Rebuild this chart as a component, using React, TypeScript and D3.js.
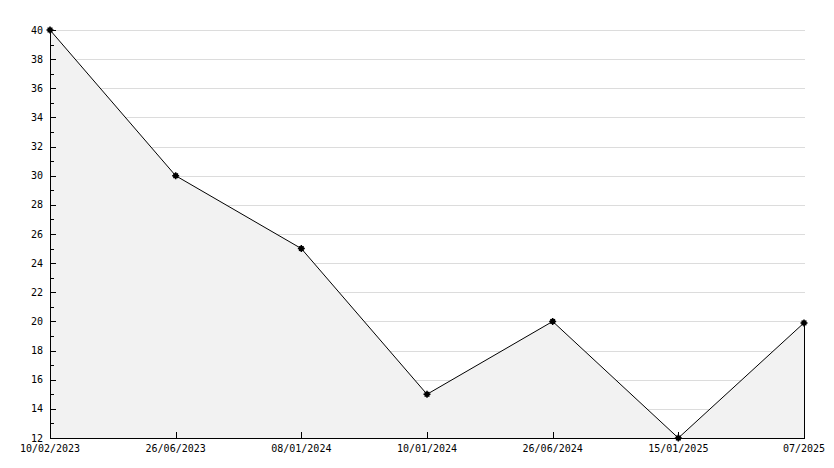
import React from "react";
import * as d3 from "d3";

const dates = ["10/02/2023", "26/06/2023", "08/01/2024", "10/01/2024", "26/06/2024", "15/01/2025", "07/2025"];
const values = [40, 30, 25, 15, 20, 12, 19.9];
const yTicks = [12, 14, 16, 18, 20, 22, 24, 26, 28, 30, 32, 34, 36, 38, 40];
const yMinor = [13, 15, 17, 19, 21, 23, 25, 27, 29, 31, 33, 35, 37, 39];

export default function App() {
  const W = 834, H = 468;
  const left = 50, right = 804, top = 30, bottom = 438;
  const x = d3.scalePoint<string>().domain(dates).range([left, right]);
  const y = d3.scaleLinear().domain([12, 40]).range([bottom, top]);
  const data = dates.map((d, i) => ({ d, v: values[i] }));
  const line = d3.line<{ d: string; v: number }>().x(p => x(p.d)!).y(p => y(p.v));
  const area = d3.area<{ d: string; v: number }>().x(p => x(p.d)!).y0(bottom).y1(p => y(p.v));
  const font = "'DejaVu Sans Mono', monospace";
  return (
    <svg width={W} height={H} style={{ position: "absolute", left: 0, top: 0, background: "#fff" }}>
      <rect x={0} y={0} width={W} height={H} fill="#fff" />
      {yTicks.map(t => (
        <line key={"g" + t} x1={left} x2={805} y1={Math.round(y(t)) + 0.5} y2={Math.round(y(t)) + 0.5} stroke="#dcdcdc" strokeWidth={1} />
      ))}
      <path d={area(data)!} fill="#f2f2f2" stroke="none" />
      <line x1={right + 0.5} x2={right + 0.5} y1={y(values[values.length - 1])} y2={bottom} stroke="#000" />
      <path d={line(data)!} fill="none" stroke="#000" strokeWidth={1} />
      {/* axes */}
      <line x1={left + 0.5} x2={left + 0.5} y1={top} y2={bottom + 0.5} stroke="#000" />
      <line x1={left} x2={805} y1={bottom + 0.5} y2={bottom + 0.5} stroke="#000" />
      {yTicks.map(t => (
        <g key={"yt" + t}>
          <line x1={left} x2={left + 6} y1={Math.round(y(t)) + 0.5} y2={Math.round(y(t)) + 0.5} stroke="#000" />
          <text x={43} y={y(t)} dy="0.35em" textAnchor="end" fontFamily={font} fontSize={10} fill="#000">{t}</text>
        </g>
      ))}
      {yMinor.map(t => (
        <line key={"ym" + t} x1={left} x2={left + 4} y1={Math.round(y(t)) + 0.5} y2={Math.round(y(t)) + 0.5} stroke="#000" />
      ))}
      {dates.map(d => (
        <g key={"xt" + d}>
          <line x1={Math.round(x(d)!) + 0.5} x2={Math.round(x(d)!) + 0.5} y1={bottom - 6} y2={bottom} stroke="#000" />
          <text x={x(d)!} y={452} textAnchor="middle" fontFamily={font} fontSize={10} fill="#000">{d}</text>
        </g>
      ))}
      {data.map(p => (
        <g key={"m" + p.d} transform={`translate(${x(p.d)},${y(p.v)})`}>
          <rect x={-2.5} y={-2.5} width={5} height={5} fill="#000" />
          <path d="M-3.5,0H3.5M0,-3.5V3.5" stroke="#000" strokeWidth={1.5} />
        </g>
      ))}
    </svg>
  );
}
